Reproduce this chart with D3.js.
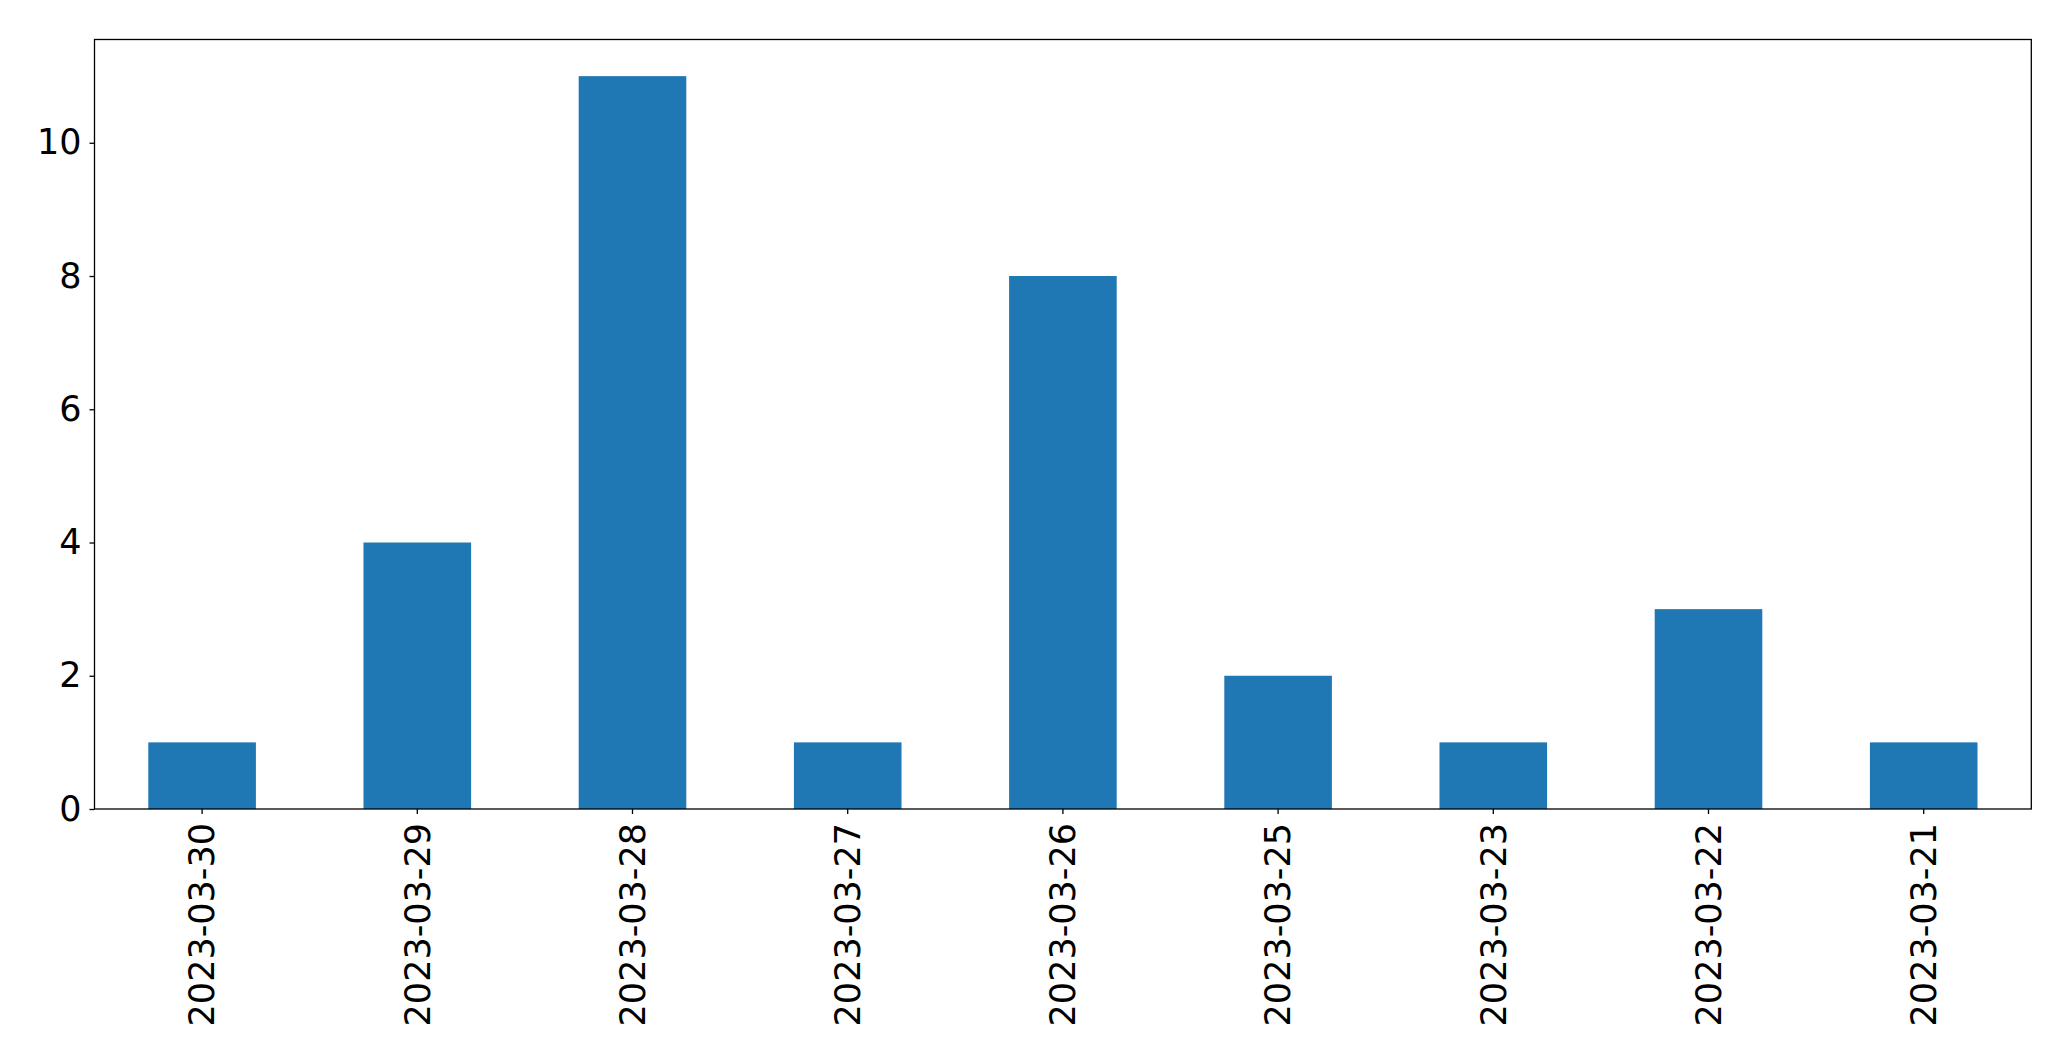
<!DOCTYPE html>
<html><head><meta charset="utf-8">
<script src="https://cdn.jsdelivr.net/npm/d3@7"></script>
<style>body{margin:0;background:#fff;} text{font-family:"DejaVu Sans",sans-serif;}</style>
</head><body>
<svg id="c" width="2071" height="1061"></svg>
<script>
const categories = ["2023-03-30","2023-03-29","2023-03-28","2023-03-27","2023-03-26","2023-03-25","2023-03-23","2023-03-22","2023-03-21"];
const values = [1,4,11,1,8,2,1,3,1];
const yTicks = [0,2,4,6,8,10];

const svg = d3.select("#c");
const L = 94.5, R = 2031.3, T = 39.5, B = 809;
const x = d3.scaleBand().domain(categories).range([L, R]).paddingInner(0.5).paddingOuter(0.25);
const y = d3.scaleLinear().domain([0, d3.max(values) * 1.05]).range([B, T]);

svg.append("g").selectAll("rect").data(values).join("rect")
  .attr("x", (d, i) => x(categories[i]))
  .attr("width", x.bandwidth())
  .attr("y", d => y(d))
  .attr("height", d => B - y(d))
  .attr("fill", "#1f77b4");

const fs = 35;
const ya = svg.append("g").attr("transform", `translate(${L},0)`)
  .call(d3.axisLeft(y).tickValues(yTicks).tickSize(5).tickPadding(8).tickFormat(d3.format("d")));
ya.select(".domain").remove();
ya.selectAll("text").attr("font-size", fs).attr("fill", "#000").attr("font-family", "DejaVu Sans");
ya.selectAll("line").attr("stroke", "#000").attr("stroke-width", 1.3);

const xa = svg.append("g").attr("transform", `translate(0,${B})`)
  .call(d3.axisBottom(x).tickSize(5).tickPadding(8));
xa.select(".domain").remove();
xa.selectAll("line").attr("stroke", "#000").attr("stroke-width", 1.3);
xa.selectAll("text").attr("font-size", fs).attr("fill", "#000").attr("font-family", "DejaVu Sans")
  .attr("transform", "rotate(-90)")
  .attr("text-anchor", "end")
  .attr("x", -14).attr("y", 0).attr("dy", "0.35em");

svg.append("rect").attr("x", L).attr("y", T).attr("width", R - L).attr("height", B - T)
  .attr("fill", "none").attr("stroke", "#000").attr("stroke-width", 1.3);
</script>
</body></html>
